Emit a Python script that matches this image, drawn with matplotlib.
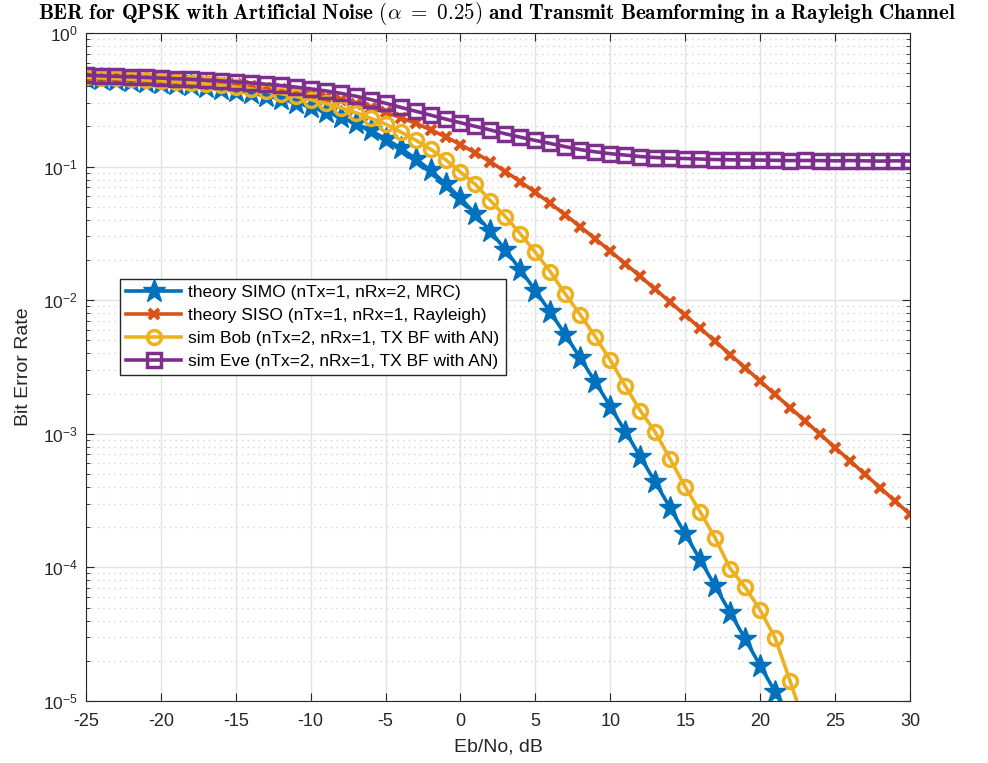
import numpy as np
import matplotlib
matplotlib.use("Agg")
from matplotlib import pyplot as plt
from matplotlib.ticker import LogLocator, NullFormatter

# Eb/No grid (dB)
ebno = list(range(-25, 31))

# theory SIMO (nTx=1, nRx=2, MRC)
ber_simo = [0.4579, 0.4528, 0.4471, 0.4407, 0.4336, 0.4256, 0.4167, 0.4068, 0.3958, 0.3836,
            0.3700, 0.3551, 0.3388, 0.3209, 0.3015, 0.2807, 0.2586, 0.2352, 0.2111, 0.1864,
            0.1618, 0.1378, 0.1149, 0.0937, 0.0746, 0.0581, 0.0441, 0.0328, 0.0238, 0.0169,
            0.0118, 0.00813, 0.00551, 0.00368, 0.00244, 0.00160, 0.00104, 0.000674, 0.000434, 0.000278,
            0.000178, 0.000114, 7.22e-5, 4.59e-5, 2.91e-5, 1.84e-5, 1.17e-5, 7.39e-6, 4.67e-6, 2.95e-6,
            1.87e-6, 1.18e-6, 7.44e-7, 4.70e-7, 2.96e-7, 1.87e-7]

# theory SISO (nTx=1, nRx=1, Rayleigh)
ber_siso = [0.4719, 0.4685, 0.4647, 0.4604, 0.4556, 0.4503, 0.4443, 0.4376, 0.4301, 0.4217,
            0.4125, 0.4022, 0.3908, 0.3782, 0.3644, 0.3493, 0.3328, 0.3151, 0.2961, 0.2760,
            0.2549, 0.2332, 0.2111, 0.1890, 0.1673, 0.1464, 0.1267, 0.1085, 0.0919, 0.0771,
            0.0642, 0.0530, 0.0435, 0.0355, 0.0288, 0.0233, 0.01875, 0.01507, 0.01208, 0.00967,
            0.00772, 0.00617, 0.00492, 0.00392, 0.00312, 0.00248, 0.00197, 0.00157, 0.00125, 0.000992,
            0.000789, 0.000627, 0.000498, 0.000396, 0.000314, 0.000250]

# sim Bob (nTx=2, nRx=1, TX BF with AN) -- no errors counted past 23 dB
ber_bob = [0.466, 0.462, 0.457, 0.452, 0.446, 0.439, 0.432, 0.424, 0.415, 0.405,
           0.393, 0.381, 0.367, 0.352, 0.335, 0.317, 0.297, 0.276, 0.254, 0.230,
           0.208, 0.182, 0.158, 0.135, 0.113, 0.091, 0.0735, 0.0556, 0.0422, 0.0314,
           0.0228, 0.0163, 0.0111, 0.00775, 0.00533, 0.00356, 0.00228, 0.00149, 0.00103, 0.000646,
           0.000400, 0.000260, 0.000166, 9.8e-5, 7.1e-5, 4.8e-5, 2.96e-5, 1.41e-5, 6.5e-6]

# sim Eve (nTx=2, nRx=1, TX BF with AN)
ber_eve = [0.485, 0.478, 0.474, 0.470, 0.465, 0.460, 0.455, 0.450, 0.444, 0.438,
           0.431, 0.423, 0.414, 0.405, 0.394, 0.382, 0.369, 0.354, 0.337, 0.318,
           0.298, 0.278, 0.260, 0.243, 0.227, 0.213, 0.200, 0.188, 0.176, 0.166,
           0.157, 0.149, 0.141, 0.134, 0.129, 0.125, 0.122, 0.119, 0.117, 0.1155,
           0.115, 0.114, 0.113, 0.1125, 0.112, 0.112, 0.1115, 0.111, 0.1112, 0.111,
           0.1105, 0.111, 0.1105, 0.110, 0.1105, 0.110]

plt.rcParams['font.family'] = ['Liberation Sans', 'DejaVu Sans']
plt.rcParams['mathtext.fontset'] = 'cm'
plt.rcParams['axes.unicode_minus'] = False

fig = plt.figure(figsize=(9.88, 7.63), dpi=100)
ax = fig.add_axes([0.087, 0.0813, 0.834, 0.8754])

lw = 2.6
ax.semilogy(ebno, ber_simo, '-*', color='#0072BD', lw=lw, ms=17, mew=1,
            label='theory SIMO (nTx=1, nRx=2, MRC)')
ax.semilogy(ebno, ber_siso, '-x', color='#D95319', lw=lw, ms=7, mew=3,
            label='theory SISO (nTx=1, nRx=1, Rayleigh)')
ax.semilogy(ebno[:len(ber_bob)], ber_bob, '-o', color='#EDB120', lw=lw, ms=10, mew=2.5,
            mfc='none', label='sim Bob (nTx=2, nRx=1, TX BF with AN)')
ax.semilogy(ebno, ber_eve, '-s', color='#7E2F8E', lw=lw, ms=10, mew=2.5,
            mfc='none', label='sim Eve (nTx=2, nRx=1, TX BF with AN)')

ax.set_xlim(-25, 30)
ax.set_ylim(1e-5, 1)
ax.set_xticks(range(-25, 31, 5))
ax.yaxis.set_minor_locator(LogLocator(base=10, subs=np.arange(2, 10)))
ax.yaxis.set_minor_formatter(NullFormatter())

ax.grid(True, which='major', color='#e3e3e3', lw=1, ls='-')
ax.grid(True, which='minor', axis='y', color='#d4d4d4', lw=1, ls=(0, (1, 3)))
ax.set_axisbelow(True)

ax.tick_params(which='both', direction='in', top=True, right=True, labelsize=13,
               colors='#262626')
ax.tick_params(axis='y', labelsize=12.5, pad=6)
ax.tick_params(which='major', length=6)
ax.tick_params(which='minor', length=3)
ax.tick_params(axis='x', pad=9)
for s in ax.spines.values():
    s.set_color('#262626')

ax.set_xlabel('Eb/No, dB', fontsize=14, color='#262626', labelpad=6)
ax.set_ylabel('Bit Error Rate', fontsize=14, color='#262626', labelpad=8)
fig.text(0.503, 1.0,
         r'$\mathbf{BER\ for\ QPSK\ with\ Artificial\ Noise\ (}\alpha\mathbf{\ =\ 0.25)\ and\ Transmit\ Beamforming\ in\ a\ Rayleigh\ Channel}$',
         fontsize=15.2, ha='center', va='top')

leg = ax.legend(loc='upper left', bbox_to_anchor=(0.041, 0.632), fontsize=12.5,
                fancybox=False, framealpha=1, edgecolor='#262626', handlelength=3.2,
                borderpad=0.35, labelspacing=0.45, handletextpad=0.4, borderaxespad=0)
leg.get_frame().set_linewidth(1)

fig.savefig('out.png', dpi=100)
